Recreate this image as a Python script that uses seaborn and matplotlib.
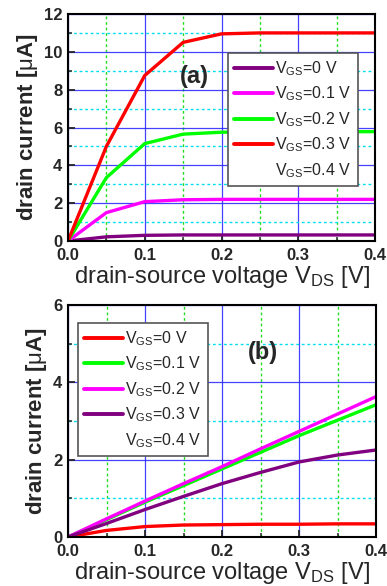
import numpy as np
import pandas as pd
import matplotlib
matplotlib.use("Agg")
import matplotlib.pyplot as plt
import seaborn as sns
from matplotlib.lines import Line2D
from matplotlib.ticker import MultipleLocator

sns.set_theme(style="white")
plt.rcParams['font.family'] = ['Liberation Sans', 'DejaVu Sans']
plt.rcParams['mathtext.fontset'] = 'custom'
plt.rcParams['mathtext.rm'] = 'Liberation Sans'
plt.rcParams['mathtext.it'] = 'Liberation Sans'
plt.rcParams['mathtext.bf'] = 'Liberation Sans:bold'

vds = [0.0, 0.05, 0.1, 0.15, 0.2, 0.25, 0.3, 0.35, 0.4]

# panel (a)
a_vgs0 = [0.0, 0.22, 0.30, 0.32, 0.32, 0.32, 0.32, 0.32, 0.32]
a_vgs1 = [0.0, 1.50, 2.08, 2.18, 2.20, 2.20, 2.20, 2.20, 2.20]
a_vgs2 = [0.0, 3.35, 5.15, 5.65, 5.75, 5.77, 5.78, 5.78, 5.78]
a_vgs3 = [0.0, 5.00, 8.75, 10.50, 10.95, 11.0, 11.0, 11.0, 11.0]

# panel (b)
b_vgs0 = [0.0, 0.17, 0.27, 0.31, 0.32, 0.33, 0.33, 0.34, 0.34]
b_vgs1 = [0.0, 0.45, 0.90, 1.33, 1.76, 2.19, 2.62, 3.02, 3.42]
b_vgs2 = [0.0, 0.47, 0.93, 1.38, 1.82, 2.28, 2.73, 3.18, 3.63]
b_vgs3 = [0.0, 0.35, 0.71, 1.05, 1.38, 1.67, 1.94, 2.12, 2.25]

labels = [r"V$_{\mathrm{GS}}$=0 V", r"V$_{\mathrm{GS}}$=0.1 V", r"V$_{\mathrm{GS}}$=0.2 V",
          r"V$_{\mathrm{GS}}$=0.3 V", r"V$_{\mathrm{GS}}$=0.4 V"]

PURPLE, MAGENTA, GREEN, RED = "#800080", "#FF00FF", "#00FF00", "#FF0000"

fig = plt.figure(figsize=(3.87, 5.86), dpi=100)
W, H = 387, 586
ax1 = fig.add_axes([68 / W, 1 - 241 / H, 307 / W, 227 / H])
ax2 = fig.add_axes([68 / W, 1 - 537 / H, 308 / W, 232 / H])

def style(ax, ymax, ymaj, ymin):
    ax.set_xlim(0, 0.4)
    ax.set_ylim(0, ymax)
    ax.xaxis.set_major_locator(MultipleLocator(0.1))
    ax.xaxis.set_minor_locator(MultipleLocator(0.05))
    ax.yaxis.set_major_locator(MultipleLocator(ymaj))
    ax.yaxis.set_minor_locator(MultipleLocator(ymin))
    ax.set_xticklabels([f"{v:.1f}" for v in ax.get_xticks()])
    ax.grid(True, which='major', axis='both', color='#2222FF', lw=0.9, ls='-', alpha=0.85)
    ax.grid(True, which='minor', axis='x', color='#22DD22', lw=1.0, ls=(0, (2, 2)))
    ax.grid(True, which='minor', axis='y', color='#00DDF0', lw=1.0, ls=(0, (2, 2)))
    ax.set_axisbelow(True)
    for s in ax.spines.values():
        s.set_color('black')
        s.set_linewidth(1.5)
    ax.tick_params(axis='both', which='major', direction='in', length=5, width=1.3,
                   labelsize=12, bottom=True, left=True, top=False, right=False)
    ax.tick_params(axis='x', which='major', pad=5)
    ax.tick_params(axis='y', which='major', pad=4)
    ax.tick_params(axis='both', which='minor', direction='in', length=3, width=1.1,
                   bottom=True, left=True, top=False, right=False)
    for t in ax.get_xticklabels() + ax.get_yticklabels():
        t.set_fontweight('bold')
    ax.set_ylabel(r"drain current [$\mathrm{\mu}$A]", fontsize=16, fontweight='bold', labelpad=3)
    ax.set_xlabel(r"drain-source voltage V$_{\mathrm{DS}}$ [V]", fontsize=17, labelpad=1)

lw = 2.4
for ys, c in zip([a_vgs0, a_vgs1, a_vgs2, a_vgs3], [PURPLE, MAGENTA, GREEN, RED]):
    sns.lineplot(x=vds, y=ys, ax=ax1, color=c, lw=lw)
for ys, c in zip([b_vgs0, b_vgs1, b_vgs2, b_vgs3], [RED, GREEN, MAGENTA, PURPLE]):
    sns.lineplot(x=vds, y=ys, ax=ax2, color=c, lw=lw)

style(ax1, 12, 2, 1)
style(ax2, 6, 2, 1)

def legend(ax, colors, anchor):
    handles = [Line2D([], [], color=c, lw=2.8) for c in colors] + [Line2D([], [], color='none', lw=2.8)]
    leg = ax.legend(handles, labels, loc='upper left', bbox_to_anchor=anchor, fontsize=11.5,
                    frameon=True, fancybox=False, edgecolor='#555555', framealpha=1,
                    handlelength=2.4, handletextpad=0.15, labelspacing=0.42,
                    borderpad=0.4, borderaxespad=0)
    leg.get_frame().set_linewidth(1.2)
    return leg

legend(ax1, [PURPLE, MAGENTA, GREEN, RED], ((228 - 68) / 307, (241 - 53) / 227))
legend(ax2, [RED, GREEN, MAGENTA, PURPLE], ((78 - 68) / 308, (537 - 323) / 232))

ax1.text(0.165, 8.7, "(a)", fontsize=17, fontweight='bold', ha='center', va='center')
ax2.text(0.253, 4.78, "(b)", fontsize=17, fontweight='bold', ha='center', va='center')

fig.savefig("out.png", dpi=100)
